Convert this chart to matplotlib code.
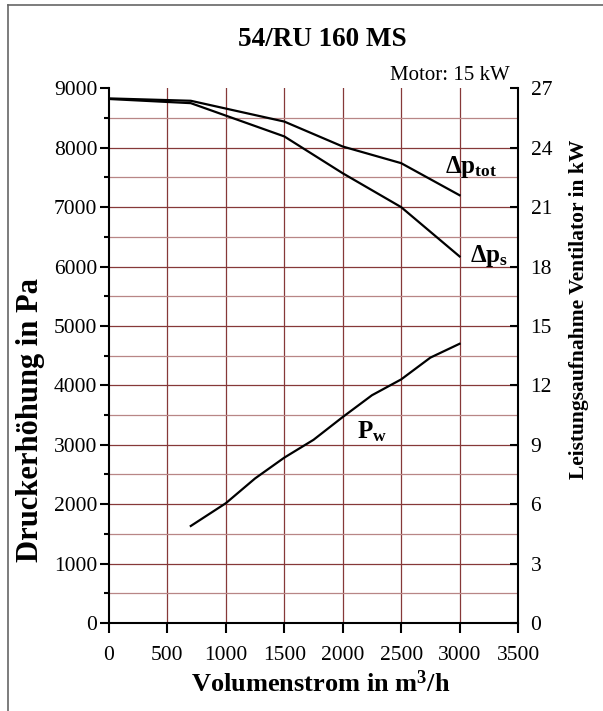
import matplotlib
matplotlib.use("Agg")
import matplotlib.pyplot as plt
from matplotlib.lines import Line2D
from matplotlib.ticker import MultipleLocator

plt.rcParams["font.family"] = ["Liberation Serif", "DejaVu Serif"]
plt.rcParams["mathtext.fontset"] = "custom"
plt.rcParams["mathtext.rm"] = "Liberation Serif"
plt.rcParams["mathtext.bf"] = "Liberation Serif:bold"
plt.rcParams["mathtext.it"] = "Liberation Serif:italic"

# curves
flow_p = [0, 700, 1500, 2000, 2500, 3000]             # m3/h
dp_tot = [8830, 8790, 8440, 8020, 7740, 7200]          # Pa
dp_s = [8820, 8750, 8190, 7570, 7000, 6170]            # Pa
flow_w = [700, 1000, 1250, 1500, 1750, 2000, 2250, 2500, 2750, 3000]
p_w = [4.9, 6.05, 7.3, 8.35, 9.25, 10.4, 11.5, 12.3, 13.4, 14.1]  # kW

x_ticks = [0, 500, 1000, 1500, 2000, 2500, 3000, 3500]
y_ticks = [0, 1000, 2000, 3000, 4000, 5000, 6000, 7000, 8000, 9000]
kw_ticks = [0, 3, 6, 9, 12, 15, 18, 21, 24, 27]

GRID = "#863838"
GRID_MINOR = "#b88686"

fig = plt.figure(figsize=(6.03, 7.11), dpi=100)
ax = fig.add_axes([109 / 603, 1 - 623 / 711, 409 / 603, 534.7 / 711])
ax2 = ax.twinx()

ax.set_xlim(0, 3500)
ax.set_ylim(0, 9000)
ax2.set_ylim(0, 27)

# grid
for xv in x_ticks[1:-1]:
    ax.axvline(xv, color=GRID, lw=0.9, zorder=1)
for yv in range(500, 9000, 500):
    ax.axhline(yv, color=GRID if yv % 1000 == 0 else GRID_MINOR, lw=0.9, zorder=1)

ax.plot(flow_p, dp_tot, color="black", lw=1.6, zorder=3)
ax.plot(flow_p, dp_s, color="black", lw=1.6, zorder=3)
ax2.plot(flow_w, p_w, color="black", lw=1.6, zorder=3)

# spines / ticks
for a in (ax, ax2):
    a.spines["top"].set_visible(False)
    for s in ("left", "right", "bottom"):
        a.spines[s].set_linewidth(1.5)
ax.spines["right"].set_visible(False)
ax2.spines["left"].set_visible(False)
ax2.spines["bottom"].set_visible(False)

ax.set_xticks(x_ticks)
ax.set_yticks(y_ticks)
ax.yaxis.set_minor_locator(MultipleLocator(500))
ax2.set_yticks(kw_ticks)
ax.tick_params(axis="x", direction="out", length=7.5, width=1.5, pad=9, labelsize=15.5)
ax.tick_params(axis="y", which="major", direction="out", length=6.5, width=1.5,
               pad=2, labelsize=15.5)
ax.tick_params(axis="y", which="minor", direction="out", length=3.8, width=1.5)
ax2.tick_params(axis="y", direction="in", length=6, width=1.5, pad=9, labelsize=15.5)

# curve labels
ax.text(2874, 7574, r"$\mathbf{\Delta p}_{\mathbf{tot}}$", fontsize=18,
        va="baseline", ha="left", zorder=4)
ax.text(3088, 6081, r"$\mathbf{\Delta p}_{\mathbf{s}}$", fontsize=18,
        va="baseline", ha="left", zorder=4)
ax2.text(2121, 9.34, r"$\mathbf{P}_{\mathbf{w}}$", fontsize=18,
         va="baseline", ha="left", zorder=4)

# figure texts
fig.text(322 / 603, 1 - 40 / 711, "54/RU 160 MS", fontsize=19.5, fontweight="bold",
         ha="center", va="center")
fig.text(510 / 603, 1 - 80 / 711, "Motor: 15 kW", fontsize=15,
         ha="right", va="baseline")
fig.text(321 / 603, 1 - 684 / 711, r"Volumenstrom in m$^{\mathbf{3}}$/h",
         fontsize=19, fontweight="bold", ha="center", va="center")
fig.text(31 / 603, 1 - 420 / 711, "Druckerhöhung in Pa", fontsize=22,
         fontweight="bold", rotation=90, ha="center", va="center")
fig.text(579 / 603, 1 - 309 / 711, "Leistungsaufnahme Ventilator in kW",
         fontsize=15.5, fontweight="bold", rotation=90, ha="center", va="center")

# outer frame (left and top edges visible)
fx = 8 / 603
fy = 1 - 5 / 711
fig.add_artist(Line2D([fx, fx], [0, fy], color="#666666", lw=1.2,
                      transform=fig.transFigure))
fig.add_artist(Line2D([fx, 1], [fy, fy], color="#666666", lw=1.2,
                      transform=fig.transFigure))

fig.savefig("out.png", dpi=100)
